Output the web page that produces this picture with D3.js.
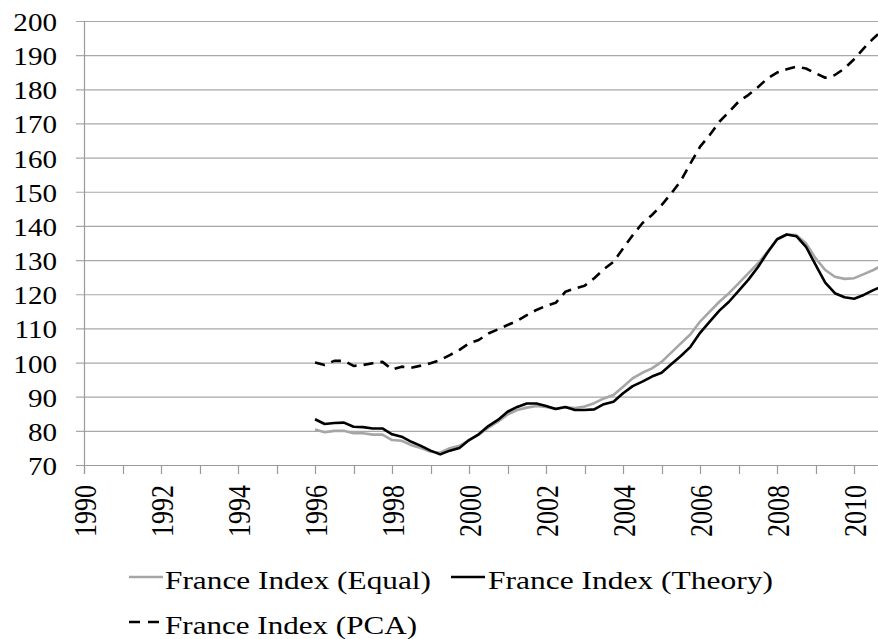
<!DOCTYPE html>
<html>
<head>
<meta charset="utf-8">
<script src="https://cdn.jsdelivr.net/npm/d3@7"></script>
<style>
  body { margin: 0; background: #fff; }
</style>
</head>
<body>
<svg id="chart" width="878" height="639" font-family="'Liberation Serif', 'DejaVu Serif Condensed', 'DejaVu Serif', serif"></svg>
<script>
// Quarterly index values, 1996Q1 .. 2010Q4
var quarters = d3.range(0, 60).map(function (i) { return 1996 + i * 0.25; });

var equal_vals = [
  80.4, 79.6, 80.0, 80.0,  79.3, 79.3, 78.9, 78.9,  77.3, 77.1, 75.8, 75.0,
  73.9, 73.6, 74.9, 75.6,  77.3, 78.9, 80.9, 82.7,  84.8, 86.1, 86.8, 87.3,
  87.0, 86.5, 86.9, 86.7,  87.1, 88.1, 89.5, 90.5,  92.9, 95.4, 97.0, 98.3,
  100.2, 102.9, 105.6, 108.3,  112.0, 114.9, 117.8, 120.3,  123.2, 126.1, 129.0, 132.4,
  136.1, 137.5, 137.3, 134.9,  130.5, 127.1, 125.1, 124.5,  124.7, 125.9, 127.1, 128.6
];

var theory_vals = [
  83.4, 82.0, 82.3, 82.4,  81.2, 81.1, 80.7, 80.7,  79.0, 78.3, 76.8, 75.6,
  74.2, 73.1, 74.2, 75.0,  77.3, 79.0, 81.4, 83.2,  85.6, 87.0, 88.0, 88.0,
  87.3, 86.4, 87.0, 86.1,  86.1, 86.3, 87.8, 88.5,  91.0, 93.1, 94.4, 95.9,
  97.0, 99.5, 101.9, 104.6,  108.7, 112.0, 115.2, 117.8,  121.0, 124.2, 127.9, 132.2,
  136.1, 137.5, 137.0, 133.9,  128.6, 123.4, 120.3, 119.1,  118.7, 119.8, 121.2, 122.4
];

var pca_vals = [
  100.0, 99.3, 100.5, 100.5,  99.0, 99.3, 99.8, 100.2,  98.0, 98.8, 98.5, 99.1,
  99.8, 100.7, 102.2, 103.7,  105.6, 106.6, 108.5, 109.7,  111.0, 112.2, 113.9, 115.4,
  116.6, 117.5, 120.7, 121.7,  122.5, 124.7, 127.3, 129.5,  133.4, 137.3, 140.8, 143.2,
  146.1, 149.5, 153.2, 158.3,  163.2, 166.6, 170.5, 173.4,  176.4, 178.3, 180.6, 183.2,
  184.9, 185.9, 186.6, 186.1,  184.7, 183.4, 184.2, 186.1,  188.8, 192.0, 194.9, 197.4
];

var y_ticks = d3.range(70, 201, 10);
var x_ticks = d3.range(1990, 2011, 1);
var x_labels = d3.range(1990, 2011, 2);

var series = [
  { name: "France Index (Equal)",  vals: equal_vals,  color: "#a6a6a6", dash: null },
  { name: "France Index (Theory)", vals: theory_vals, color: "#000",    dash: null },
  { name: "France Index (PCA)",    vals: pca_vals,    color: "#000",    dash: "10,7" }
];

var FONT = 26;

var svg = d3.select("#chart");

var x = d3.scaleLinear().domain([1990, 2010.75]).range([84, 883]);
var y = d3.scaleLinear().domain([70, 200]).range([465, 21]);

// gridlines
svg.append("g")
  .selectAll("line")
  .data(y_ticks)
  .join("line")
  .attr("x1", 76).attr("x2", 878)
  .attr("y1", function (d) { return y(d) + 0.5; })
  .attr("y2", function (d) { return y(d) + 0.5; })
  .attr("stroke", function (d) { return d === 70 ? "#9a9a9a" : "#a8a8a8"; })
  .attr("stroke-width", 1.2);

// y axis line
svg.append("line")
  .attr("x1", 84.5).attr("x2", 84.5)
  .attr("y1", y(200)).attr("y2", y(70) + 9)
  .attr("stroke", "#9a9a9a").attr("stroke-width", 1.2);

// x ticks
svg.append("g")
  .selectAll("line")
  .data(x_ticks)
  .join("line")
  .attr("x1", function (d) { return Math.round(x(d)) + 0.5; })
  .attr("x2", function (d) { return Math.round(x(d)) + 0.5; })
  .attr("y1", y(70)).attr("y2", y(70) + 9)
  .attr("stroke", "#9a9a9a").attr("stroke-width", 1.2);

// y labels (the original glyphs are a bit wider)
svg.append("g")
  .selectAll("text")
  .data(y_ticks)
  .join("text")
  .attr("transform", function (d) { return "translate(57," + (y(d) + 10) + ") scale(1.12,1)"; })
  .attr("text-anchor", "end")
  .attr("font-size", FONT)
  .text(function (d) { return d; });

// x labels, rotated
svg.append("g")
  .selectAll("text")
  .data(x_labels)
  .join("text")
  .attr("transform", function (d) {
    return "translate(" + (x(d) + 1) + "," + 485 + ") scale(1.2,1) rotate(-90)";
  })
  .attr("text-anchor", "end")
  .attr("dy", "0.36em")
  .attr("font-size", FONT)
  .text(function (d) { return d; });

// the lines
svg.append("clipPath").attr("id", "plot-clip")
  .append("rect").attr("x", 84).attr("y", 0).attr("width", 794).attr("height", 470);

var line = d3.line()
  .x(function (d, i) { return x(quarters[i]); })
  .y(function (d) { return y(d); });

var plot = svg.append("g").attr("clip-path", "url(#plot-clip)");

series.forEach(function (s) {
  plot.append("path")
    .attr("d", line(s.vals))
    .attr("fill", "none")
    .attr("stroke", s.color)
    .attr("stroke-width", 2.6)
    .attr("stroke-linejoin", "round")
    .attr("stroke-dasharray", s.dash);
});

// legend
var legend_pos = [
  { lx: 129, ly: 577, tx: 165, ty: 589, w: 266 },
  { lx: 451, ly: 577, tx: 488, ty: 589, w: 285 },
  { lx: 129, ly: 622, tx: 165, ty: 634, w: 252 }
];

series.forEach(function (s, i) {
  var p = legend_pos[i];
  svg.append("line")
    .attr("x1", p.lx).attr("x2", p.lx + 34)
    .attr("y1", p.ly).attr("y2", p.ly)
    .attr("stroke", s.color)
    .attr("stroke-width", 2.6)
    .attr("stroke-dasharray", s.dash ? "11,8" : null);

  svg.append("text")
    .attr("x", p.tx).attr("y", p.ty)
    .attr("font-size", FONT)
    .attr("textLength", p.w)
    .attr("lengthAdjust", "spacingAndGlyphs")
    .text(s.name);
});
</script>
</body>
</html>
